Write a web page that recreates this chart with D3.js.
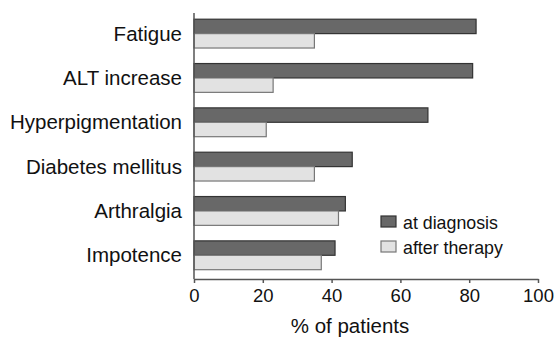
<!DOCTYPE html>
<html>
<head>
<meta charset="utf-8">
<script src="https://cdn.jsdelivr.net/npm/d3@7"></script>
<style>
  body { margin: 0; background: #fff; }
  text { font-family: "Liberation Sans", Arial, sans-serif; fill: #111; }
</style>
</head>
<body>
<svg id="chart"></svg>
<script>
// Data
const categories = ["Fatigue", "ALT increase", "Hyperpigmentation", "Diabetes mellitus", "Arthralgia", "Impotence"];
const atDiagnosis = [82, 81, 68, 46, 44, 41];
const afterTherapy = [35, 23, 21, 35, 42, 37];
const seriesNames = ["at diagnosis", "after therapy"];
const xTicks = [0, 20, 40, 60, 80, 100];

const width = 555;
const height = 341;
const margin = { top: 13, right: 17, bottom: 62, left: 194 };

const fills = ["#686868", "#e2e2e2"];
const strokes = ["#333", "#777"];

const svg = d3.select("#chart")
  .attr("width", width)
  .attr("height", height);

const x = d3.scaleLinear()
  .domain([0, 100])
  .range([margin.left, width - margin.right]);

const y = d3.scaleBand()
  .domain(categories)
  .range([margin.top, height - margin.bottom])
  .paddingInner(0.35)
  .paddingOuter(0.175)
  .align(0.4);

const rows = categories.map((c, i) => ({ cat: c, values: [atDiagnosis[i], afterTherapy[i]] }));

// bars
const half = y.bandwidth() / 2;
const groups = svg.append("g")
  .selectAll("g")
  .data(rows)
  .join("g")
    .attr("transform", d => `translate(0,${y(d.cat)})`);

groups.selectAll("rect")
  .data(d => d.values)
  .join("rect")
    .attr("x", x(0))
    .attr("y", (d, i) => i * half)
    .attr("width", d => x(d) - x(0))
    .attr("height", half)
    .attr("fill", (d, i) => fills[i])
    .attr("stroke", (d, i) => strokes[i])
    .attr("stroke-width", 1.2);

// category labels
svg.append("g")
  .selectAll("text")
  .data(categories)
  .join("text")
    .attr("x", margin.left - 12)
    .attr("y", d => y(d) + y.bandwidth() / 2)
    .attr("dy", "0.35em")
    .attr("text-anchor", "end")
    .style("font-size", "20.5px")
    .text(d => d);

// y axis line
svg.append("line")
  .attr("x1", x(0)).attr("x2", x(0))
  .attr("y1", margin.top).attr("y2", height - margin.bottom)
  .attr("stroke", "#555")
  .attr("stroke-width", 1.5);

// x axis
const xAxis = svg.append("g")
  .attr("transform", `translate(0,${height - margin.bottom})`)
  .call(d3.axisBottom(x).tickValues(xTicks).tickSize(4).tickPadding(6).tickSizeOuter(0));

xAxis.select(".domain").attr("stroke", "#555").attr("stroke-width", 1.5);
xAxis.selectAll(".tick line").attr("stroke", "#555").attr("stroke-width", 1.5);
xAxis.selectAll(".tick text")
  .style("font-size", "18.5px")
  .style("font-family", "'Liberation Sans', Arial, sans-serif")
  .attr("fill", "#111");

svg.append("text")
  .attr("x", 350)
  .attr("y", 333)
  .attr("text-anchor", "middle")
  .style("font-size", "20.5px")
  .text("% of patients");

// legend
const legend = svg.append("g")
  .attr("transform", "translate(381,216)");

const items = legend.selectAll("g")
  .data(seriesNames)
  .join("g")
    .attr("transform", (d, i) => `translate(0,${i * 25})`);

items.append("rect")
  .attr("width", 15)
  .attr("height", 11)
  .attr("fill", (d, i) => fills[i])
  .attr("stroke", (d, i) => strokes[i])
  .attr("stroke-width", 1.2);

items.append("text")
  .attr("x", 22)
  .attr("y", 13)
  .style("font-size", "17.8px")
  .text(d => d);
</script>
</body>
</html>
